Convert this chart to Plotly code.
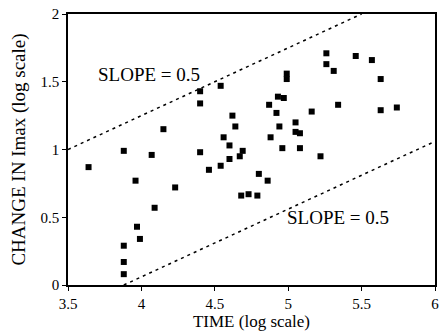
import plotly.graph_objects as go

time_log = [3.64, 3.88, 4.07, 4.40, 4.60, 4.46, 4.54, 4.60, 4.67, 4.69,
            3.96, 4.23, 4.09, 3.97, 3.99, 3.88, 3.88, 3.88, 4.40, 4.40,
            4.54, 4.15, 4.62, 4.64, 4.56, 4.99, 4.99, 4.93, 4.97, 4.87,
            4.92, 5.16, 5.05, 4.94, 5.05, 5.08, 4.88, 4.96, 5.08, 5.22,
            4.80, 4.86, 4.68, 4.73, 4.79, 5.26, 5.46, 5.57, 5.26, 5.31,
            5.63, 5.34, 5.63, 5.74]
change_log = [0.87, 0.99, 0.96, 0.98, 1.03, 0.85, 0.88, 0.93, 0.95, 0.99,
              0.77, 0.72, 0.57, 0.43, 0.34, 0.29, 0.17, 0.08, 1.43, 1.34,
              1.47, 1.15, 1.25, 1.17, 1.09, 1.56, 1.52, 1.39, 1.38, 1.33,
              1.27, 1.28, 1.20, 1.17, 1.13, 1.12, 1.09, 1.01, 1.01, 0.95,
              0.82, 0.77, 0.66, 0.67, 0.66, 1.71, 1.69, 1.66, 1.63, 1.58,
              1.52, 1.33, 1.29, 1.31]

upper_x = [3.5, 5.5]
upper_y = [1.0, 2.0]
lower_x = [3.88, 6.0]
lower_y = [0.0, 1.06]

x_ticks = [3.5, 4, 4.5, 5, 5.5, 6]
y_ticks = [0, 0.5, 1, 1.5, 2]

font = "Liberation Serif"

fig = go.Figure()
fig.add_trace(go.Scatter(x=upper_x, y=upper_y, mode="lines",
                         line=dict(color="black", width=1.5, dash="3px,4px"),
                         showlegend=False, hoverinfo="skip"))
fig.add_trace(go.Scatter(x=lower_x, y=lower_y, mode="lines",
                         line=dict(color="black", width=1.5, dash="3px,4px"),
                         showlegend=False, hoverinfo="skip"))
fig.add_trace(go.Scatter(x=time_log, y=change_log, mode="markers",
                         marker=dict(symbol="square", size=6, color="black"),
                         showlegend=False))

fig.add_annotation(x=4.05, y=1.55, text="SLOPE = 0.5", showarrow=False,
                   font=dict(family=font, size=19, color="black"))
fig.add_annotation(x=5.34, y=0.50, text="SLOPE = 0.5", showarrow=False,
                   font=dict(family=font, size=19, color="black"))

axis_common = dict(showgrid=False, zeroline=False, showline=True,
                   linecolor="black", linewidth=1.5, mirror=True,
                   ticks="outside", ticklen=4, tickcolor="black",
                   tickfont=dict(family=font, size=15, color="black"))

fig.update_xaxes(range=[3.5, 6], tickvals=x_ticks,
                 ticktext=[str(v) for v in x_ticks],
                 title=dict(text="TIME (log scale)", standoff=2,
                            font=dict(family=font, size=17, color="black")),
                 **axis_common)
fig.update_yaxes(range=[0, 2], tickvals=y_ticks,
                 ticktext=["0", "0.5", "1", "1.5", "2"],
                 title=dict(text="CHANGE IN Imax (log scale)", standoff=10,
                            font=dict(family=font, size=19, color="black")),
                 **axis_common)

fig.update_layout(width=445, height=332,
                  margin=dict(l=68, r=6, t=11, b=47),
                  plot_bgcolor="white", paper_bgcolor="white")

fig.write_html("out.html")
